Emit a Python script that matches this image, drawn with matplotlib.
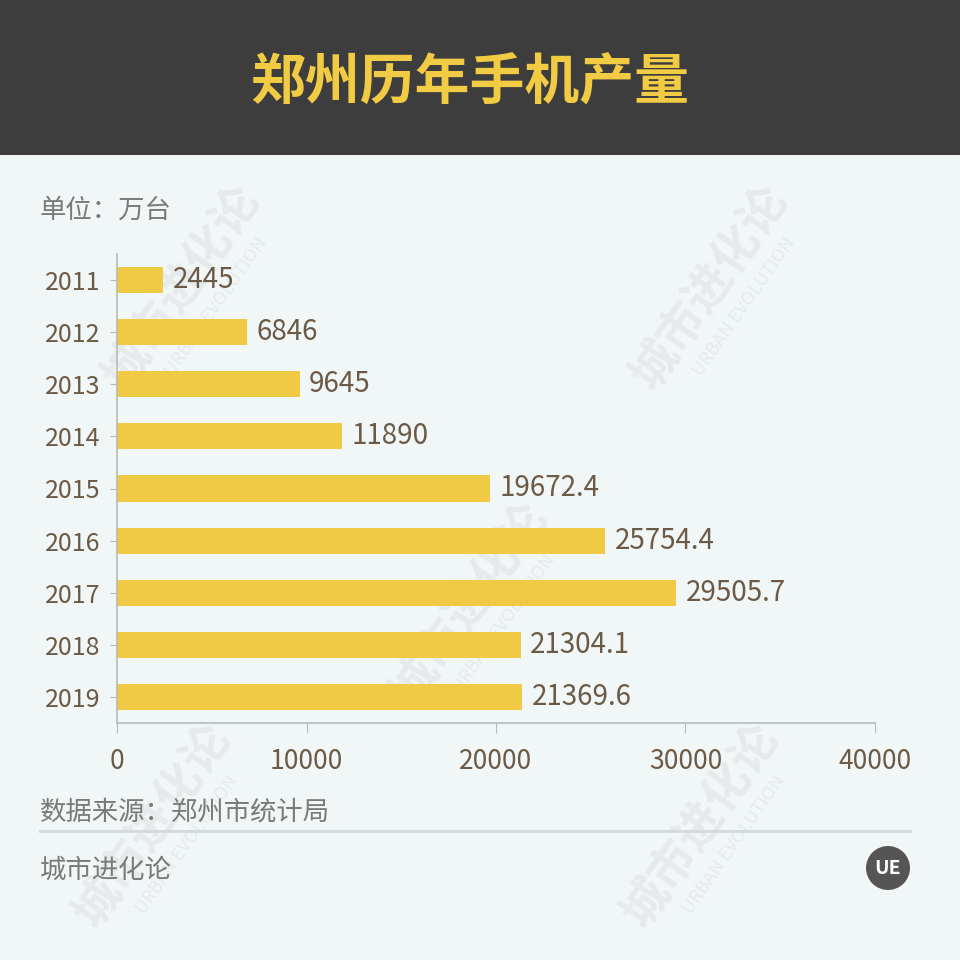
import matplotlib
matplotlib.use("Agg")
import matplotlib.pyplot as plt
from matplotlib.patches import Rectangle, Circle

plt.rcParams['font.family'] = ['Noto Sans CJK SC', 'DejaVu Sans']

years = ['2011', '2012', '2013', '2014', '2015', '2016', '2017', '2018', '2019']
output = [2445, 6846, 9645, 11890, 19672.4, 25754.4, 29505.7, 21304.1, 21369.6]
xticks = [0, 10000, 20000, 30000, 40000]

title = '郑州历年手机产量'
unit = '单位：万台'
source = '数据来源：郑州市统计局'
brand = '城市进化论'

BG = '#f1f6f6'
BAR = '#f0c945'
TXT = '#6b5a45'
GREY = '#7a7a7a'
WM = '#e6eaea'

fig = plt.figure(figsize=(9.6, 9.6), dpi=100, facecolor=BG)

# dark header band
fig.patches.append(Rectangle((0, 1 - 155 / 960), 1, 155 / 960, transform=fig.transFigure,
                             facecolor='#3d3d3d', edgecolor='none', zorder=-2))
fig.text(470 / 960, 1 - 83 / 960, title, color='#f2cb45', fontsize=39.5, fontweight='bold',
         ha='center', va='center')

# faint watermarks, kept behind everything
for (wx, wy) in [(0.19, 0.70), (0.74, 0.70), (0.49, 0.37), (0.16, 0.14), (0.73, 0.14)]:
    fig.text(wx, wy, '城市进化论', color=WM, fontsize=34, fontweight='bold',
             rotation=55, ha='center', va='center', zorder=-1)
    fig.text(wx + 0.035, wy - 0.02, 'URBAN EVOLUTION', color=WM, fontsize=13,
             rotation=55, ha='center', va='center', zorder=-1)

ax = fig.add_axes([117 / 960, 1 - 723 / 960, (875 - 117) / 960, (723 - 254) / 960])
ax.set_facecolor('none')
ypos = list(range(len(years)))
ax.barh(ypos, output, height=0.5, color=BAR, zorder=2)
for y, v in zip(ypos, output):
    ax.text(v + 500, y, f"{v:g}", color=TXT, fontsize=20, va='center', ha='left')

ax.set_ylim(len(years) - 0.5, -0.5)
ax.set_xlim(0, 40000)
ax.set_yticks(ypos)
ax.set_yticklabels(years, color=TXT, fontsize=18)
ax.set_xticks(xticks)
ax.set_xticklabels([str(t) for t in xticks], color=TXT, fontsize=19)
ax.tick_params(axis='y', length=5, color='#b5baba', pad=7)
ax.tick_params(axis='x', length=7, color='#b5baba', pad=11)
for s in ['top', 'right']:
    ax.spines[s].set_visible(False)
for s in ['left', 'bottom']:
    ax.spines[s].set_color('#b5baba')
    ax.spines[s].set_linewidth(1.2)

fig.text(40 / 960, 1 - 210 / 960, unit, color=GREY, fontsize=19, ha='left', va='center')
fig.text(40 / 960, 1 - 812 / 960, source, color=GREY, fontsize=19, ha='left', va='center')
fig.add_artist(plt.Line2D([40 / 960, 910 / 960], [1 - 831 / 960, 1 - 831 / 960],
                          color='#d3d8d8', linewidth=2, transform=fig.transFigure))
fig.text(40 / 960, 1 - 870 / 960, brand, color=GREY, fontsize=19, ha='left', va='center')

# small round logo
fig.patches.append(Circle((888 / 960, 1 - 868 / 960), 22 / 960, transform=fig.transFigure,
                          facecolor='#555555', edgecolor='none'))
fig.text(888 / 960, 1 - 868 / 960, 'UE', color='white', fontsize=14, fontweight='bold',
         ha='center', va='center')

fig.savefig('out.png', dpi=100, facecolor=BG)
